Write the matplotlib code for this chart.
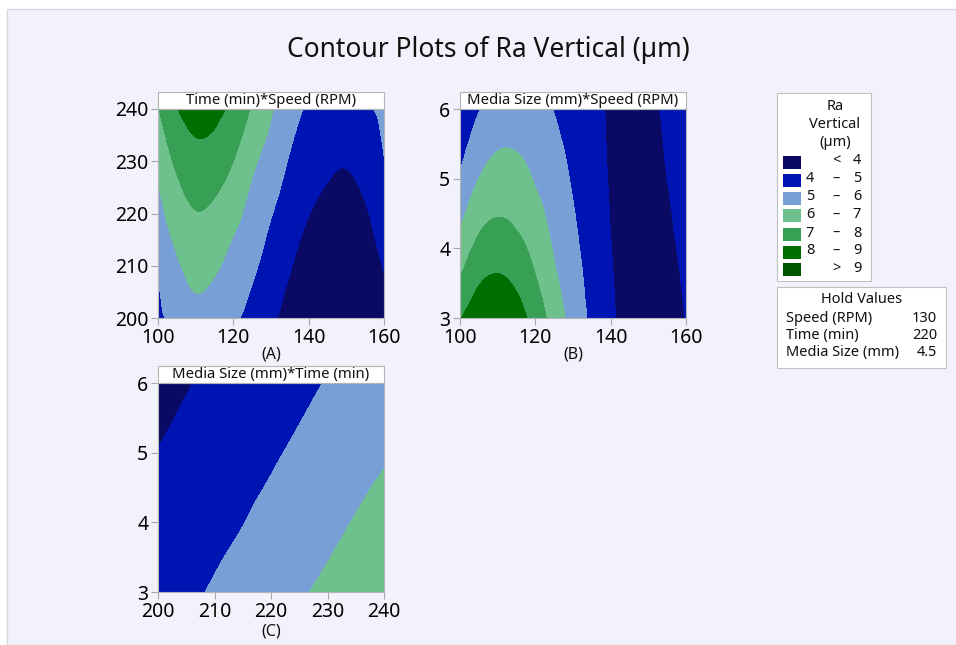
import numpy as np
import matplotlib.pyplot as plt
import matplotlib.tri as mtri
from matplotlib.patches import Rectangle

plt.rcParams['font.family'] = ['Noto Sans', 'DejaVu Sans']

# Panel A: Time (min) * Speed (RPM)
speed = [100, 105, 110, 115, 120, 125, 130, 135, 140, 145, 150, 155, 160]
time_a = [200, 205, 210, 215, 220, 225, 230, 235, 240]
ra_a = [
    [4.80, 5.32, 5.72, 5.55, 5.15, 4.72, 4.20, 3.64, 3.20, 2.95, 2.90, 3.10, 3.60],
    [4.93, 5.59, 6.01, 5.82, 5.40, 4.93, 4.40, 3.85, 3.40, 3.15, 3.07, 3.30, 3.83],
    [5.18, 5.87, 6.33, 6.13, 5.67, 5.17, 4.62, 4.07, 3.60, 3.35, 3.26, 3.50, 4.05],
    [5.44, 6.17, 6.65, 6.46, 5.95, 5.41, 4.82, 4.28, 3.80, 3.55, 3.45, 3.70, 4.28],
    [5.69, 6.50, 6.96, 6.79, 6.30, 5.65, 5.05, 4.50, 4.02, 3.76, 3.65, 3.90, 4.50],
    [5.95, 6.82, 7.31, 7.14, 6.65, 5.89, 5.31, 4.71, 4.23, 3.96, 3.85, 4.12, 4.73],
    [6.27, 7.18, 7.67, 7.53, 7.00, 6.19, 5.57, 4.92, 4.44, 4.17, 4.06, 4.35, 4.96],
    [6.61, 7.56, 8.03, 7.91, 7.37, 6.55, 5.85, 5.15, 4.63, 4.35, 4.27, 4.60, 5.08],
    [6.95, 7.95, 8.40, 8.25, 7.75, 6.90, 6.10, 5.43, 4.85, 4.55, 4.50, 4.85, 5.20],
]

# Panel B: Media Size (mm) * Speed (RPM)
media_b = [3.0, 3.25, 3.5, 3.75, 4.0, 4.25, 4.5, 4.75, 5.0, 5.25, 5.5, 5.75, 6.0]
ra_b = [
    [7.95, 8.62, 8.85, 8.43, 7.60, 6.57, 5.60, 4.80, 4.14, 3.70, 3.55, 3.70, 4.02],
    [7.55, 8.28, 8.50, 8.15, 7.36, 6.39, 5.50, 4.75, 4.11, 3.70, 3.56, 3.73, 4.05],
    [7.14, 7.95, 8.17, 7.86, 7.11, 6.22, 5.40, 4.71, 4.08, 3.69, 3.58, 3.77, 4.09],
    [6.77, 7.61, 7.86, 7.58, 6.89, 6.04, 5.31, 4.66, 4.05, 3.69, 3.59, 3.81, 4.12],
    [6.41, 7.27, 7.55, 7.30, 6.69, 5.91, 5.22, 4.61, 4.02, 3.68, 3.60, 3.85, 4.16],
    [6.04, 6.94, 7.24, 7.01, 6.49, 5.79, 5.14, 4.56, 3.99, 3.68, 3.62, 3.89, 4.20],
    [5.73, 6.63, 6.94, 6.79, 6.29, 5.68, 5.06, 4.52, 3.97, 3.67, 3.64, 3.92, 4.23],
    [5.43, 6.31, 6.67, 6.56, 6.10, 5.56, 4.98, 4.47, 3.95, 3.67, 3.66, 3.96, 4.27],
    [5.12, 6.00, 6.40, 6.34, 5.92, 5.44, 4.90, 4.42, 3.93, 3.66, 3.68, 4.00, 4.30],
    [4.85, 5.74, 6.14, 6.12, 5.76, 5.32, 4.83, 4.37, 3.92, 3.66, 3.70, 4.04, 4.34],
    [4.60, 5.47, 5.90, 5.90, 5.61, 5.20, 4.75, 4.33, 3.91, 3.65, 3.73, 4.07, 4.38],
    [4.35, 5.21, 5.67, 5.70, 5.45, 5.08, 4.68, 4.28, 3.90, 3.65, 3.76, 4.11, 4.41],
    [4.10, 4.95, 5.45, 5.50, 5.30, 4.97, 4.60, 4.23, 3.90, 3.65, 3.80, 4.15, 4.45],
]

# Panel C: Media Size (mm) * Time (min)
time_c = [200, 205, 210, 215, 220, 225, 230, 235, 240]
media_c = [3.0, 3.5, 4.0, 4.5, 5.0, 5.5, 6.0]
ra_c = [
    [4.64, 4.85, 5.08, 5.35, 5.62, 5.90, 6.17, 6.44, 6.70],
    [4.49, 4.70, 4.92, 5.16, 5.43, 5.70, 5.97, 6.24, 6.51],
    [4.33, 4.55, 4.77, 4.98, 5.24, 5.51, 5.78, 6.05, 6.32],
    [4.18, 4.40, 4.62, 4.83, 5.06, 5.31, 5.58, 5.85, 6.12],
    [4.02, 4.24, 4.46, 4.68, 4.90, 5.13, 5.37, 5.63, 5.90],
    [3.87, 4.09, 4.31, 4.53, 4.75, 4.97, 5.20, 5.45, 5.70],
    [3.72, 3.95, 4.17, 4.39, 4.60, 4.82, 5.04, 5.27, 5.50],
]

levels = [0, 4, 5, 6, 7, 8, 9, 20]
colors = ['#0A0A64', '#0014B4', '#78A0D7', '#6EC18C', '#37A055', '#006E00', '#005500']
legend_rows = [('', '<', '4'), ('4', '–', '5'), ('5', '–', '6'), ('6', '–', '7'),
               ('7', '–', '8'), ('8', '–', '9'), ('', '>', '9')]
hold_names = ['Speed (RPM)', 'Time (min)', 'Media Size (mm)']
hold_values = ['130', '220', '4.5']

W, H = 956, 645
fig = plt.figure(figsize=(W / 100, H / 100), dpi=100)
fig.patch.set_facecolor('white')


def fx(x):
    return x / W


def fy(y):
    return 1 - y / H


# lavender backdrop with thin frame (behind the axes)
fig.add_artist(Rectangle((fx(7), 0), 1, fy(9), transform=fig.transFigure, zorder=-5,
                         facecolor='#F2F2FC', edgecolor='#D6D6DC', lw=1))

fig.text(fx(488), fy(50), 'Contour Plots of Ra Vertical (µm)', ha='center', va='center',
         fontsize=19, color='#111111')

TXT = 10.5


def smooth_contour(ax, x, y, z):
    # triangulate on grid indices, let matplotlib's cubic refiner smooth the contours
    x = np.asarray(x, float)
    y = np.asarray(y, float)
    z = np.asarray(z, float)
    ii, jj = np.meshgrid(np.arange(len(x)), np.arange(len(y)))
    tri = mtri.Triangulation(ii.ravel().astype(float), jj.ravel().astype(float))
    interp = mtri.CubicTriInterpolator(tri, z.ravel(), kind='geom')
    tri_f, z_f = mtri.UniformTriRefiner(tri).refine_field(z.ravel(), triinterpolator=interp, subdiv=3)
    xs = np.interp(tri_f.x, np.arange(len(x)), x)
    ys = np.interp(tri_f.y, np.arange(len(y)), y)
    tri_xy = mtri.Triangulation(xs, ys, tri_f.triangles)
    ax.tricontourf(tri_xy, z_f, levels=levels, colors=colors)


def panel(left, top, x, y, z, title, label, label_off, xticks, yticks):
    ax = fig.add_axes([fx(left), fy(top + 209), 226 / W, 209 / H])
    smooth_contour(ax, x, y, z)
    ax.set_xlim(x[0], x[-1])
    ax.set_ylim(y[0], y[-1])
    ax.set_xticks(xticks)
    ax.set_yticks(yticks)
    ax.tick_params(labelsize=14, length=5, width=0.8, color='#A8A8A8', labelcolor='#000000', pad=2)
    for s in ax.spines.values():
        s.set_color('#B4B4B4')
        s.set_linewidth(0.8)
    ax.add_patch(Rectangle((0, 1), 1, 17 / 209, transform=ax.transAxes, clip_on=False,
                           facecolor='white', edgecolor='#B4B4B4', lw=0.8))
    ax.text(0.5, 1 + 8.5 / 209, title, transform=ax.transAxes, ha='center', va='center',
            fontsize=10.7, color='#111111')
    ax.text(0.5, -label_off / 209, label, transform=ax.transAxes, ha='center', va='center',
            fontsize=11.5, color='#111111')
    return ax


panel(158, 109, speed, time_a, ra_a, 'Time (min)*Speed (RPM)', '(A)', 36,
      [100, 120, 140, 160], [200, 210, 220, 230, 240])
panel(460, 109, speed, media_b, ra_b, 'Media Size (mm)*Speed (RPM)', '(B)', 36,
      [100, 120, 140, 160], [3, 4, 5, 6])
panel(158, 383, time_c, media_c, ra_c, 'Media Size (mm)*Time (min)', '(C)', 39,
      [200, 210, 220, 230, 240], [3, 4, 5, 6])

# legend box
fig.add_artist(Rectangle((fx(777), fy(281)), (871 - 777) / W, (281 - 93) / H,
                         transform=fig.transFigure, facecolor='white', edgecolor='#C0C0C0', lw=0.8))
for txt, yy in zip(['Ra', 'Vertical', '(µm)'], [106, 124, 143]):
    fig.text(fx(835), fy(yy), txt, ha='center', va='center', fontsize=TXT, color='#111111')
for i, (c, (lo, sep, hi)) in enumerate(zip(colors, legend_rows)):
    yc = 162 + 18 * i
    fig.add_artist(Rectangle((fx(783), fy(yc + 6.5)), 18 / W, 13 / H, transform=fig.transFigure,
                             facecolor=c, edgecolor='none'))
    fig.text(fx(810), fy(yc - 1), lo, ha='center', va='center', fontsize=TXT, color='#111111')
    fig.text(fx(836), fy(yc - 1), sep, ha='center', va='center', fontsize=TXT, color='#111111')
    fig.text(fx(857), fy(yc - 1), hi, ha='center', va='center', fontsize=TXT, color='#111111')

# hold values box
fig.add_artist(Rectangle((fx(777), fy(368)), (946 - 777) / W, (368 - 287) / H,
                         transform=fig.transFigure, facecolor='white', edgecolor='#C0C0C0', lw=0.8))
fig.text(fx(862), fy(300), 'Hold Values', ha='center', va='center', fontsize=TXT, color='#111111')
for i, (name, val) in enumerate(zip(hold_names, hold_values)):
    yy = 318 + 17.5 * i
    fig.text(fx(786), fy(yy), name, ha='left', va='center', fontsize=TXT, color='#111111')
    fig.text(fx(937), fy(yy), val, ha='right', va='center', fontsize=TXT, color='#111111')

fig.savefig('out.png', dpi=100, facecolor=fig.get_facecolor())
